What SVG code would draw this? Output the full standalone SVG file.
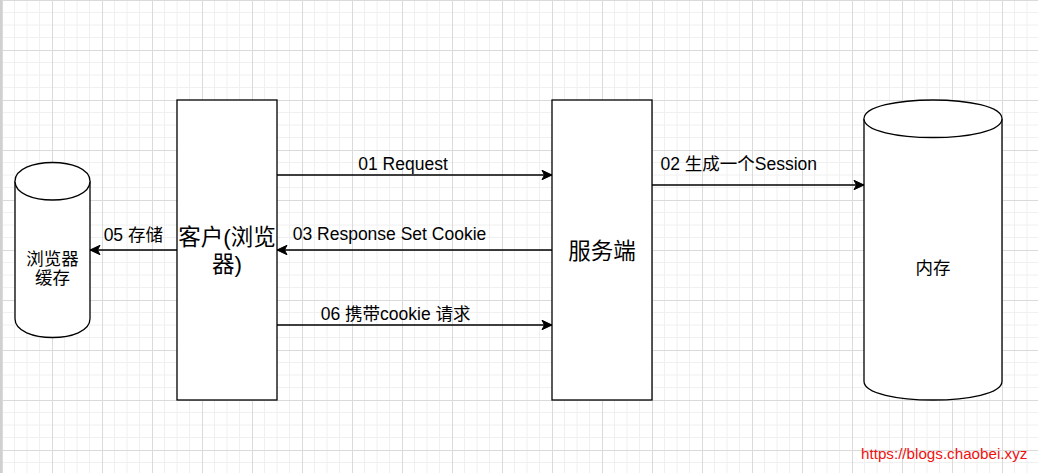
<svg xmlns="http://www.w3.org/2000/svg" width="1038" height="473" viewBox="0 0 1038 473">
  <defs>
    <pattern id="grid" x="2" y="0" width="50" height="50" patternUnits="userSpaceOnUse">
      <path d="M12.5,0 V50 M25,0 V50 M37.5,0 V50 M0,12.5 H50 M0,25 H50 M0,37.5 H50" stroke="#f0f0f0" stroke-width="1" fill="none"/>
      <path d="M0.5,0 V50 M0,0.5 H50" stroke="#dadada" stroke-width="1" fill="none"/>
    </pattern>
    <marker id="arrow" markerUnits="userSpaceOnUse" markerWidth="10" markerHeight="10" refX="10" refY="5" orient="auto" overflow="visible">
      <path d="M0,0.3 L10,5 L0,9.7 L2.5,5 Z" fill="#000" stroke="#000" stroke-width="1"/>
    </marker>
  </defs>
  <style>
    .shape { fill: #fff; stroke: #000; stroke-width: 1.3; }
    .edge { fill: none; stroke: #000; stroke-width: 1.3; marker-end: url(#arrow); }
    text { font-family: "Liberation Sans", "Noto Sans CJK SC", Arial, sans-serif; fill: #000; text-anchor: middle; }
    .lbl { font-size: 17.5px; }
    .big { font-size: 22.5px; }
    .wm { font-size: 15.2px; fill: #f01010; text-anchor: start; }
  </style>
  <rect x="0" y="0" width="1038" height="473" fill="#fff"/>
  <rect x="0" y="0" width="1038" height="473" fill="url(#grid)"/>
  <line x1="1" y1="0" x2="1" y2="473" stroke="#d0d0d0" stroke-width="2"/>

  <g id="edges">
    <line class="edge" x1="277" y1="175" x2="552" y2="175"/>
    <line class="edge" x1="552" y1="250" x2="277" y2="250"/>
    <line class="edge" x1="277" y1="325" x2="552" y2="325"/>
    <line class="edge" x1="652" y1="185" x2="864" y2="185"/>
    <line class="edge" x1="177" y1="250" x2="90" y2="250"/>
    <text class="lbl" x="403" y="170">01 Request</text>
    <text class="lbl" x="389.5" y="240">03 Response Set Cookie</text>
    <text class="lbl" x="395.7" y="320">06 携带cookie 请求</text>
    <text class="lbl" x="738.8" y="170">02 生成一个Session</text>
    <text class="lbl" x="133.3" y="241">05 存储</text>
  </g>

  <g id="client">
    <rect class="shape" x="177" y="100" width="100" height="300"/>
    <text class="big" x="227" y="244.5">客户(浏览</text>
    <text class="big" x="227" y="271.5">器)</text>
  </g>

  <g id="server">
    <rect class="shape" x="552" y="100" width="100" height="300"/>
    <text class="big" x="602" y="258.5">服务端</text>
  </g>

  <g id="memory">
    <path class="shape" d="M864,118.75 C864,93.75 1002,93.75 1002,118.75 L1002,381.25 C1002,406.25 864,406.25 864,381.25 Z"/>
    <path class="shape" fill="none" d="M864,118.75 C864,143.75 1002,143.75 1002,118.75"/>
    <text class="lbl" x="933" y="273.5">内存</text>
  </g>

  <g id="browser-cache">
    <path class="shape" d="M15,181.25 C15,156.25 90,156.25 90,181.25 L90,318.75 C90,343.75 15,343.75 15,318.75 Z"/>
    <path class="shape" fill="none" d="M15,181.25 C15,206.25 90,206.25 90,181.25"/>
    <text class="lbl" x="52.5" y="264.5">浏览器</text>
    <text class="lbl" x="52.5" y="283.5">缓存</text>
  </g>

  <g id="watermark">
    <text class="wm" x="861" y="459">https://blogs.chaobei.xyz</text>
  </g>
</svg>
